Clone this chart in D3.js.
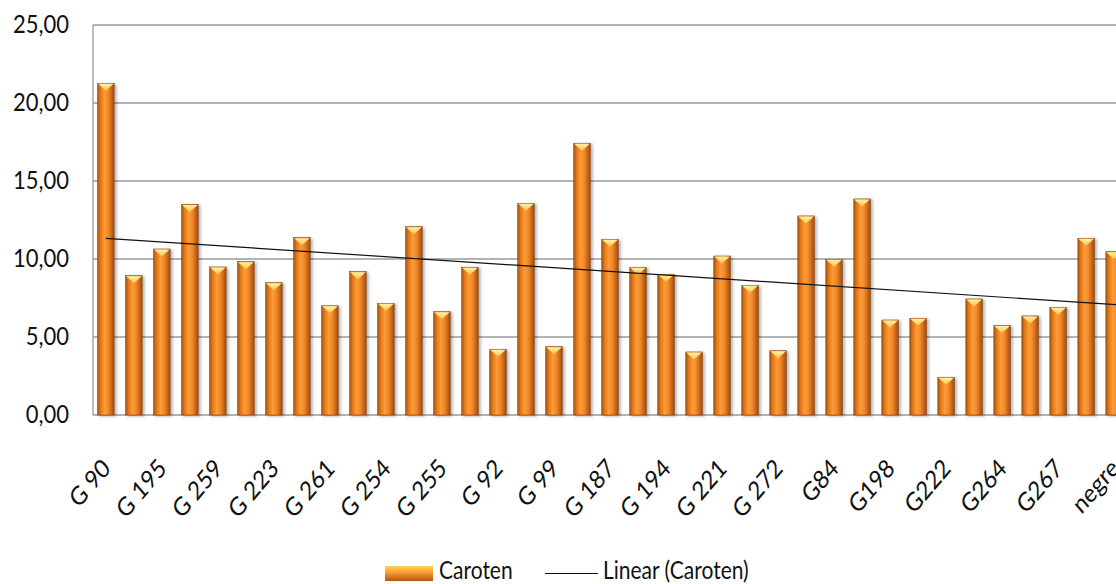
<!DOCTYPE html>
<html>
<head>
<meta charset="utf-8">
<script src="https://cdn.jsdelivr.net/npm/d3@7/dist/d3.min.js"></script>
<style>
  body { margin: 0; background: #fff; }
  svg { display: block; font-family: Lato, "Open Sans", sans-serif; }
</style>
</head>
<body>
<script>
// tick labels shown under every second bar; the others are not readable in the source
const categories = [
  "G 90", "", "G 195", "", "G 259", "", "G 223", "", "G 261", "", "G 254", "", "G 255", "",
  "G 92", "", "G 99", "", "G 187", "", "G 194", "", "G 221", "", "G 272", "", "G84", "",
  "G198", "", "G222", "", "G264", "", "G267", "", "negre"
];
const caroten = [
  21.26, 8.93, 10.64, 13.5, 9.49, 9.83, 8.48, 11.37, 7.0, 9.19, 7.16, 12.07, 6.62, 9.47,
  4.21, 13.57, 4.38, 17.42, 11.26, 9.47, 9.02, 4.04, 10.19, 8.31, 4.12, 12.76, 9.98, 13.85,
  6.09, 6.2, 2.42, 7.44, 5.73, 6.35, 6.9, 11.33, 10.47
];
const yTicks = [0, 5, 10, 15, 20, 25];

const width = 1116, height = 584;
const plotLeft = 93, plotTop = 25, plotBottom = 415;
const stretch = 1.17; // the source text is a bit taller than it is wide

const svg = d3.select("body").append("svg")
    .attr("width", width)
    .attr("height", height);

const defs = svg.append("defs");
const grad = defs.append("linearGradient").attr("id", "bar").attr("x1", 0).attr("x2", 1).attr("y1", 0).attr("y2", 0);
[[0, "#a9530f"], [0.18, "#e07a1c"], [0.42, "#ff9a36"], [0.62, "#f48c2a"], [0.85, "#c8651a"], [1, "#9a4a0e"]]
  .forEach(s => grad.append("stop").attr("offset", s[0]).attr("stop-color", s[1]));
const capGrad = defs.append("linearGradient").attr("id", "cap").attr("x1", 0).attr("x2", 0).attr("y1", 0).attr("y2", 1);
capGrad.append("stop").attr("offset", 0).attr("stop-color", "#fff2a8");
capGrad.append("stop").attr("offset", 1).attr("stop-color", "#ffc24a");
const lgGrad = defs.append("linearGradient").attr("id", "legendGrad").attr("x1", 0).attr("x2", 0).attr("y1", 0).attr("y2", 1);
[[0, "#ffd45a"], [0.35, "#ffa53a"], [1, "#b4570f"]]
  .forEach(s => lgGrad.append("stop").attr("offset", s[0]).attr("stop-color", s[1]));
defs.append("filter").attr("id", "shadow").attr("x", "-50%").attr("width", "200%")
  .append("feDropShadow").attr("dx", 2).attr("dy", 1).attr("stdDeviation", 1.6)
  .attr("flood-color", "#000").attr("flood-opacity", 0.3);

const x = d3.scaleBand()
    .domain(d3.range(caroten.length))
    .range([plotLeft - 1, plotLeft - 1 + 28 * caroten.length])
    .paddingInner(0.41)
    .paddingOuter(0.2);

const y = d3.scaleLinear()
    .domain([0, 25])
    .range([plotBottom, plotTop]);

// grid
svg.append("g")
  .selectAll("line")
  .data(yTicks)
  .join("line")
    .attr("x1", plotLeft)
    .attr("x2", width)
    .attr("y1", d => y(d))
    .attr("y2", d => y(d))
    .attr("stroke", "#9a9a9a")
    .attr("stroke-width", 1.3);

svg.append("line")
    .attr("x1", plotLeft).attr("x2", plotLeft)
    .attr("y1", plotTop).attr("y2", plotBottom)
    .attr("stroke", "#9a9a9a").attr("stroke-width", 1.3);

// y axis labels
const yAxis = svg.append("g")
    .attr("transform", `translate(${plotLeft},0)`)
    .call(d3.axisLeft(y).tickValues(yTicks).tickSize(0).tickPadding(24)
      .tickFormat(d => d3.format(".2f")(d).replace(".", ",")));
yAxis.select(".domain").remove();
yAxis.selectAll("text")
    .attr("font-size", 22)
    .attr("font-family", "Lato, sans-serif")
    .attr("fill", "#111")
    .attr("transform", `scale(1,${stretch})`)
    .attr("dy", "0.28em");

// bars
const bars = svg.append("g");
const bw = x.bandwidth();
bars.selectAll("rect")
  .data(caroten)
  .join("rect")
    .attr("x", (d, i) => x(i))
    .attr("y", d => y(d))
    .attr("width", bw)
    .attr("height", d => y(0) - y(d))
    .attr("fill", "url(#bar)")
    .attr("stroke", "#8a4510")
    .attr("stroke-width", 0.6)
    .attr("filter", "url(#shadow)");

bars.selectAll("path.cap")
  .data(caroten)
  .join("path")
    .attr("class", "cap")
    .attr("d", (d, i) => {
      const x0 = x(i) + 0.5, x1 = x(i) + bw - 0.5, t = y(d) + 0.5;
      return `M${x0},${t}L${x1},${t}L${x(i) + bw / 2},${t + 7}Z`;
    })
    .attr("fill", "url(#cap)");

// trendline
const n = caroten.length;
const mx = d3.mean(d3.range(n)), my = d3.mean(caroten);
const slope = d3.sum(caroten, (v, i) => (i - mx) * (v - my)) / d3.sum(d3.range(n), i => (i - mx) ** 2);
const b0 = my - slope * mx;
const cx = i => x(i) + bw / 2;
const idx = d3.scaleLinear().domain([cx(0), cx(1)]).range([0, 1]);
svg.append("line")
    .attr("x1", cx(0))
    .attr("y1", y(b0))
    .attr("x2", width)
    .attr("y2", y(b0 + slope * idx(width)))
    .attr("stroke", "#111")
    .attr("stroke-width", 1.2);

// x labels
svg.append("g")
  .selectAll("text")
  .data(categories)
  .join("text")
    .attr("transform", (d, i) => `translate(${cx(i) + 6},${470}) scale(1,${stretch}) rotate(-45)`)
    .attr("text-anchor", "end")
    .attr("font-size", 22)
    .attr("fill", "#111")
    .text(d => d);

// legend
const lg = svg.append("g");
lg.append("rect")
    .attr("x", 385).attr("y", 566).attr("width", 48).attr("height", 15)
    .attr("fill", "url(#legendGrad)");
lg.append("text")
    .attr("transform", `translate(439,579) scale(1,${stretch})`)
    .attr("font-size", 21).attr("fill", "#111")
    .text("Caroten");
lg.append("line")
    .attr("x1", 545).attr("x2", 598).attr("y1", 573.5).attr("y2", 573.5)
    .attr("stroke", "#111").attr("stroke-width", 1.2);
lg.append("text")
    .attr("transform", `translate(603,579) scale(1,${stretch})`)
    .attr("font-size", 21).attr("fill", "#111")
    .text("Linear (Caroten)");
</script>
</body>
</html>
